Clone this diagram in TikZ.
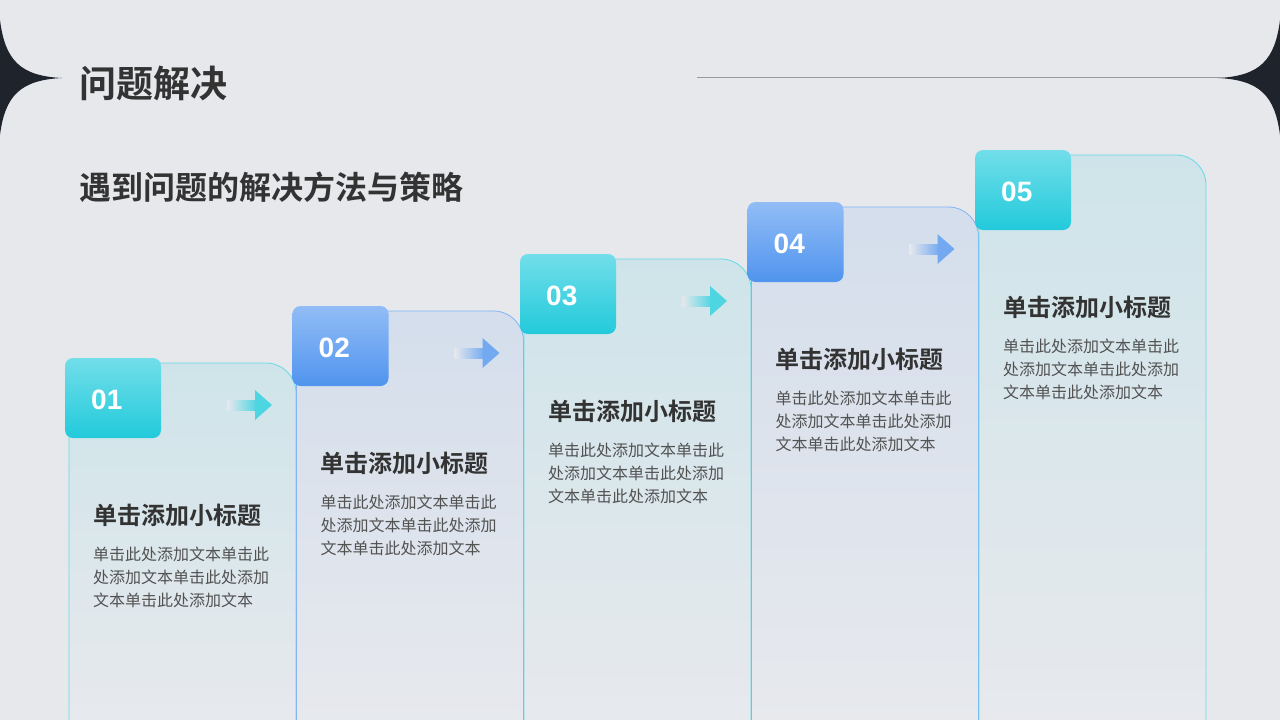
\documentclass[tikz,border=0pt]{standalone}
\usepackage{fontspec}
\newfontfamily\cjk{Noto Sans CJK SC}[BoldFont={Noto Sans CJK SC Bold}]
\newfontfamily\numfont{Liberation Sans}
\usetikzlibrary{positioning, arrows.meta}
\definecolor{bgc}{HTML}{E6E8EC}
\definecolor{darkc}{HTML}{1E232C}
\definecolor{cyanA}{HTML}{72DEEA}
\definecolor{cyanB}{HTML}{22CADB}
\definecolor{blueA}{HTML}{92BDF6}
\definecolor{blueB}{HTML}{5094EE}
\definecolor{txtc}{HTML}{333333}
\tikzset{
  cardbox/.style={draw=#1!70, line width=0.8pt, top color=#1!12!bgc, bottom color=bgc!96!white},
  badge/.style={rounded corners=8pt, inner sep=0pt},
  cardtitle/.style={font=\cjk\bfseries\fontsize{24}{28}\selectfont, text=txtc, anchor=west, inner sep=0pt},
  cardbody/.style={font=\cjk\fontsize{16}{23}\selectfont, text=txtc!85, anchor=north west, inner sep=0pt, align=left},
}
\begin{document}
\begin{tikzpicture}[x=1pt, y=-1pt]
  \fill[bgc] (0,0) rectangle (1280,720);
  \useasboundingbox (0,0) rectangle (1280,720);

% Corners
  \fill[darkc] (0,20) .. controls (5,60) and (20,76) .. (62,78) .. controls (20,80) and (5,96) .. (0,135) -- cycle;
  \fill[darkc] (1280,20) .. controls (1275,60) and (1260,76) .. (1218,78) .. controls (1260,80) and (1275,96) .. (1280,135) -- cycle;
  \draw[gray!80, line width=0.8pt] (697,77) -- (1225,77);

  \node[font=\cjk\bfseries\fontsize{37}{40}\selectfont, text=txtc, anchor=west, inner sep=0pt] (head) at (79,83) {问题解决};
  \node[font=\cjk\bfseries\fontsize{32}{36}\selectfont, text=txtc, anchor=west, inner sep=0pt] (sub) at (79,187) {遇到问题的解决方法与策略};

  \foreach \i/\c in {1/cyan, 2/blue, 3/cyan, 4/blue, 5/cyan}{
    \pgfmathsetmacro{\xl}{69+227.5*(\i-1)}
    \pgfmathsetmacro{\yt}{363-52*(\i-1)}
    % card
    \path[cardbox=\c B] (\xl,725) -- (\xl,\yt) -- (\xl+197,\yt) arc[start angle=-90, end angle=0, radius=30] -- (\xl+227,725);
    % arrow
    \ifnum\i<5
      \shade[left color=bgc, right color=\c B!80, shading angle=90] (\xl+158,\yt+37) rectangle (\xl+188,\yt+47);
      \fill[\c B!80] (\xl+186,\yt+27) -- (\xl+203,\yt+42) -- (\xl+186,\yt+57) -- cycle;
    \fi
    % badge
    \shade[badge, top color=\c A, bottom color=\c B] (\xl-4,\yt-5) rectangle (\xl+92,\yt+75);
    \node[font=\numfont\bfseries\fontsize{28}{30}\selectfont, text=white, anchor=west, inner sep=0pt] (num\i) at (\xl+22,\yt+37) {0\i};
    \node[cardtitle] (title\i) at (\xl+24,\yt+152) {单击添加小标题};
    \node[cardbody, below=20pt of title\i.south west, anchor=north west] (body\i) {单击此处添加文本单击此\\处添加文本单击此处添加\\文本单击此处添加文本};
  }
\end{tikzpicture}
\end{document}
